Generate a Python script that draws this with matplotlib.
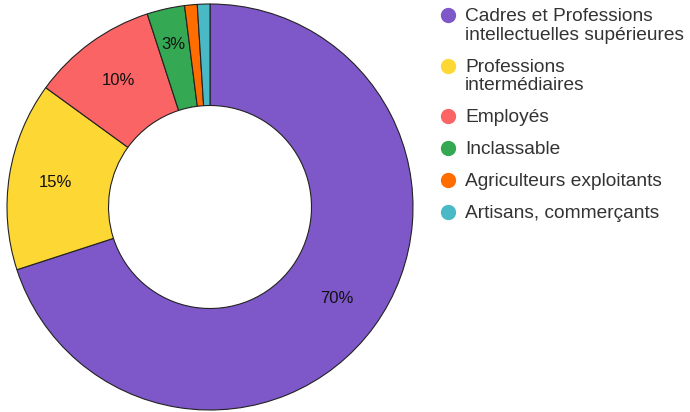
import numpy as np
import matplotlib.pyplot as plt
from matplotlib.lines import Line2D

plt.rcParams['font.family'] = ['Liberation Sans', 'DejaVu Sans']

categories = ["Cadres et Professions\nintellectuelles supérieures",
              "Professions\nintermédiaires",
              "Employés",
              "Inclassable",
              "Agriculteurs exploitants",
              "Artisans, commerçants"]
values = [70, 15, 10, 3, 1, 1]
colors = ["#7e57c9", "#fdd835", "#fa6464", "#34a853", "#ff6d00", "#4ab9c6"]


def pct_label(p):
    return f"{p:.0f}%" if p >= 2 else ""


W, H = 690, 412
fig = plt.figure(figsize=(W / 100, H / 100), dpi=100)
ax = fig.add_axes([7 / W, 2 / H, 406 / W, 406 / H])
wedges, texts, autotexts = ax.pie(
    values, colors=colors, startangle=90, counterclock=False,
    autopct=pct_label, pctdistance=0.77, radius=1,
    wedgeprops=dict(width=0.5, edgecolor="#222222", linewidth=0.8),
    textprops=dict(fontsize=12, color="#111111"))
# narrow slices get their label pushed a bit outwards
for w, t, v in zip(wedges, autotexts, values):
    if v < 5:
        a = np.deg2rad((w.theta1 + w.theta2) / 2)
        t.set_position((0.82 * np.cos(a), 0.82 * np.sin(a)))
ax.set_xlim(-1, 1)
ax.set_ylim(-1, 1)
ax.set_aspect("equal")
ax.axis("off")

# legend drawn by hand (pixel positions from the top)
y = 15
for label, c in zip(categories, colors):
    n = label.count("\n") + 1
    fig.add_artist(Line2D([448 / W], [1 - y / H], marker="o", markersize=10,
                          markerfacecolor=c, markeredgecolor=c,
                          linestyle="", transform=fig.transFigure))
    fig.text(465 / W, 1 - (y - 7) / H, label, ha="left", va="top",
             fontsize=13.8, color="#333333", linespacing=1.12)
    y += 32 + (n - 1) * 18.5

fig.savefig("out.png", dpi=100)
